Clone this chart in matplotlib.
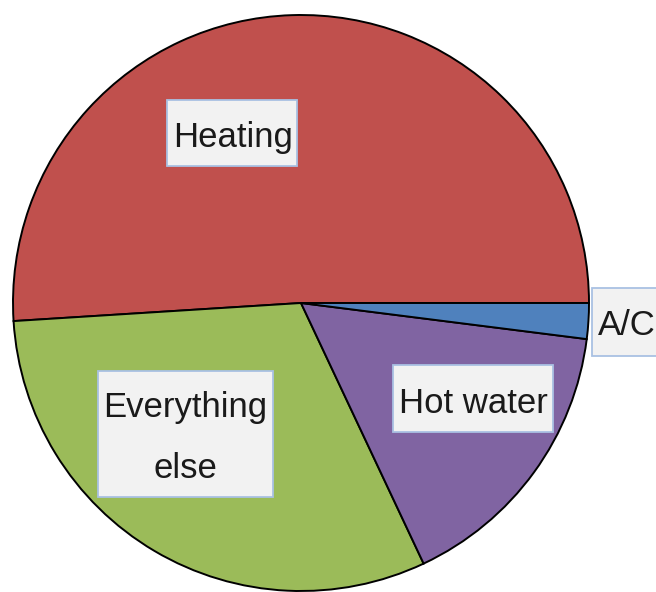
import matplotlib
matplotlib.use("Agg")
import matplotlib.pyplot as plt
from matplotlib.patches import Rectangle

categories = ["Heating", "Everything else", "Hot water", "A/C"]
values = [51, 31, 16, 2]
colors = ["#c0504d", "#9bbb59", "#8064a2", "#4f81bd"]

W, H = 656, 592
CX, CY, R = 301, 303, 288

fig = plt.figure(figsize=(W / 100, H / 100), dpi=100)
ax = fig.add_axes([(CX - R) / W, (H - CY - R) / H, 2 * R / W, 2 * R / H])
ax.pie(values, colors=colors, startangle=0, counterclock=True, radius=1,
       wedgeprops=dict(edgecolor="black", linewidth=1.4))
ax.set_xlim(-1, 1)
ax.set_ylim(-1, 1)
ax.set_aspect("equal")
ax.axis("off")

def px(x):
    return (x - CX) / R

def py(y):
    return (CY - y) / R

# label layout: (box left, top, right, bottom) in pixels, text lines with (x center, baseline)
layouts = {
    "Heating": ((167, 100, 297, 166), [("Heating", 233, 147, "center")]),
    "Everything else": ((98, 371, 273, 497), [("Everything", 185, 417, "center"), ("else", 185, 478, "center")]),
    "Hot water": ((393, 365, 553, 432), [("Hot water", 473, 413, "center")]),
    "A/C": ((592, 288, 700, 356), [("A/C", 598, 335, "left")]),
}

for cat in categories:
    (l, t, r, b), lines = layouts[cat]
    rect = Rectangle((px(l), py(b)), px(r) - px(l), py(t) - py(b),
                     facecolor="#f2f2f2", edgecolor="#a9c1e3", linewidth=1.3,
                     clip_on=False, zorder=3)
    ax.add_patch(rect)
    for txt, x, y, ha in lines:
        ax.text(px(x), py(y), txt, ha=ha, va="baseline", fontsize=25,
                family="Liberation Sans", color="#1a1a1a", zorder=4, clip_on=False)

fig.savefig("out.png", dpi=100)
